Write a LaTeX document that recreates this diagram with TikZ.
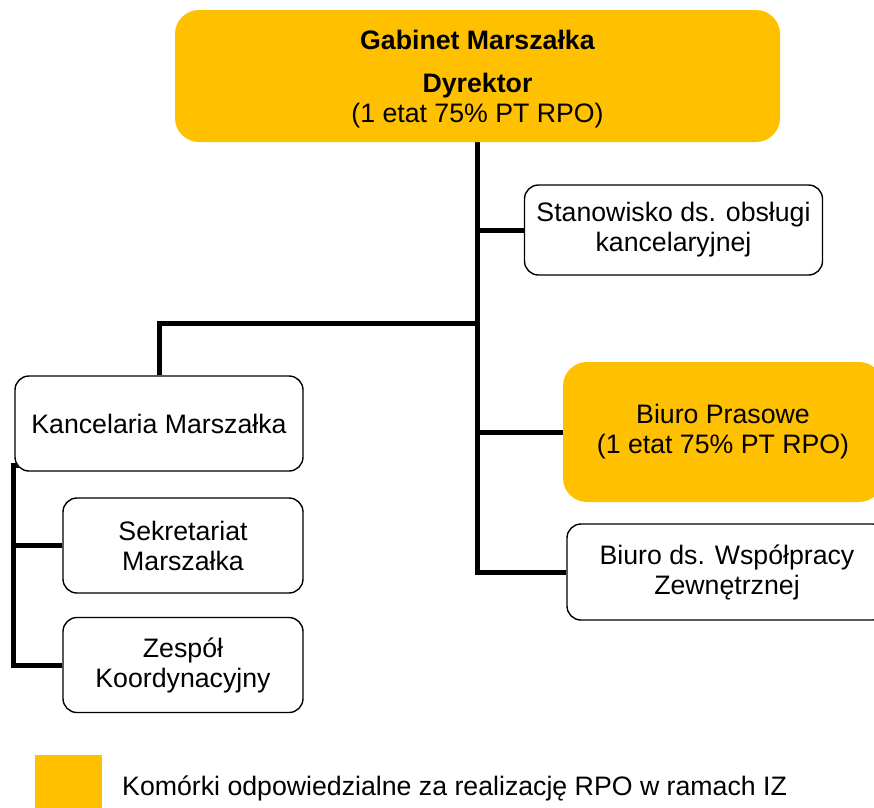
\documentclass[tikz,border=0pt]{standalone}
\usepackage{fontspec}
\setmainfont{Liberation Sans}
\usetikzlibrary{backgrounds}
\definecolor{rpo}{HTML}{FFC000}
\begin{document}
\begin{tikzpicture}[x=1pt,y=-1pt,
  box/.style={draw=black, line width=1.4pt, fill=white, rounded corners=14pt, align=center, inner sep=0pt, font=\fontsize{26.7}{30}\selectfont},
  obox/.style={fill=rpo, rounded corners=24pt, align=center, inner sep=0pt, font=\fontsize{26.7}{30}\selectfont},
  conn/.style={line width=5pt, line cap=butt}]
\useasboundingbox (0,0) rectangle (874,807);
\clip (0,0) rectangle (874,807);
\node[obox, minimum width=605pt, minimum height=132pt] (top) at (477.5,76) {};
\node[align=center, inner sep=0pt, font=\fontsize{26.7}{30}\selectfont] (toptext) at (477.5,79) {\textbf{Gabinet Marszałka}\\[13pt]\textbf{Dyrektor}\\(1 etat 75\% PT RPO)};
\node[box, minimum width=298pt, minimum height=90pt] (stan) at (673.5,230) {Stanowisko ds. obsługi\\kancelaryjnej};
\node[box, minimum width=288pt, minimum height=95pt] (kanc) at (159,423.5) {Kancelaria Marszałka};
\node[box, minimum width=240pt, minimum height=95pt] (sekr) at (183,545.5) {Sekretariat\\Marszałka};
\node[box, minimum width=240pt, minimum height=95pt] (zesp) at (183,665) {Zespół\\Koordynacyjny};
\node[obox, minimum width=320pt, minimum height=140pt] (pras) at (723,432) {Biuro Prasowe\\(1 etat 75\% PT RPO)};
\node[box, minimum width=320pt, minimum height=96pt] (wsp) at (727,572) {Biuro ds. Współpracy\\Zewnętrznej};
\node[fill=rpo, minimum width=67pt, minimum height=60pt, inner sep=0pt] (leg) at (68.5,785) {};
\node[anchor=west, inner sep=0pt, font=\fontsize{26.7}{30}\selectfont] (legt) at (122,788) {Komórki odpowiedzialne za realizację RPO w ramach IZ};
\coordinate (j) at (477.5,323);
\coordinate (lk) at (13,465);
\begin{scope}[on background layer]
\draw[conn] (top.south) |- (wsp.west);
\draw[conn] (top.south |- stan.west) -- (stan.west);
\draw[conn] (top.south |- pras.west) -- (pras.west);
\draw[conn] (j) -| (kanc.north);
\draw[conn] ([xshift=10pt]lk) -- (lk) |- (zesp.west);
\draw[conn] (lk |- sekr.west) -- (sekr.west);
\end{scope}
\end{tikzpicture}
\end{document}
